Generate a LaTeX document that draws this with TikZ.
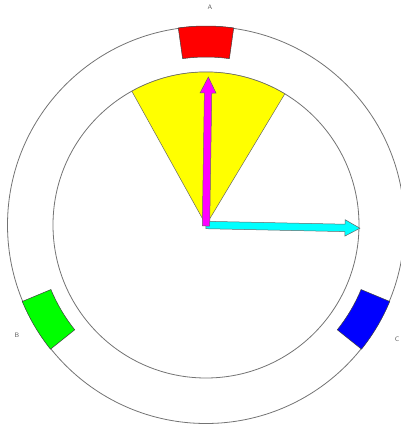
\documentclass[tikz,border=0pt]{standalone}
\definecolor{cYellow}{RGB}{255,255,0}
\definecolor{cMagenta}{RGB}{255,0,255}
\definecolor{cCyan}{RGB}{0,255,255}
\definecolor{cRed}{RGB}{255,0,0}
\definecolor{cGreen}{RGB}{0,255,0}
\definecolor{cBlue}{RGB}{0,0,255}
\begin{document}
\begin{tikzpicture}[x=1pt,y=1pt,
  ring/.style={draw=black!55,line width=0.8pt},
  boxshape/.style={draw=black!75,line width=0.5pt},
  arrowshape/.style={draw=black!60,line width=0.5pt},
  lbl/.style={font=\sffamily\fontsize{6.5}{7}\selectfont,text=black!65,inner sep=0pt}]
\useasboundingbox (-206,-204) rectangle (195,225);
% circles
\draw[ring] (0,0) circle[radius=198.5];
\draw[ring] (0,0) circle[radius=153];
% yellow sector
\draw[fill=cYellow,draw=black!60,line width=0.5pt] (0,0) -- (59:153) arc[start angle=59,end angle=119,radius=153] -- cycle;
% boxes
\foreach \c/\col in {90/cRed,210.6/cGreen,329.4/cBlue}{
  \draw[boxshape,fill=\col] (\c-8:168) -- (\c-8:199) arc[start angle=\c-8,end angle=\c+8,radius=199] -- (\c+8:168) arc[start angle=\c+8,end angle=\c-8,radius=168] -- cycle;
}
% cyan arrow
\begin{scope}[rotate=-1.2]
\draw[arrowshape,fill=cCyan] (0,-3.7) -- (139,-3.7) -- (139,-8.2) -- (154,0) -- (139,8.2) -- (139,3.7) -- (0,3.7) -- cycle;
\end{scope}
% magenta arrow
\begin{scope}[rotate=89.1]
\draw[arrowshape,fill=cMagenta] (-1,-3.7) -- (132,-3.7) -- (132,-8) -- (148,0) -- (132,8) -- (132,3.7) -- (-1,3.7) -- cycle;
\end{scope}
% labels
\node[lbl] (A) at (4,218) {A};
\node[lbl] (B) at (-189,-110) {B};
\node[lbl] (C) at (191,-114) {C};
\end{tikzpicture}
\end{document}
